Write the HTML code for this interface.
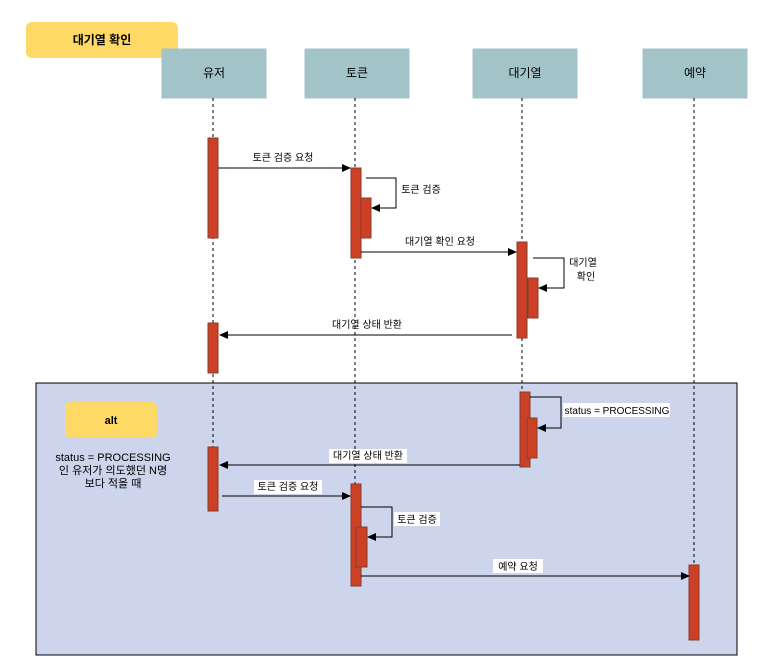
<!DOCTYPE html>
<html><head><meta charset="utf-8"><style>
body{margin:0;background:#fff;}
svg text{font-family:"Liberation Sans","Noto Sans CJK KR",sans-serif;}
</style></head><body>
<svg width="774" height="667" xmlns="http://www.w3.org/2000/svg">
<defs><marker id="a" markerWidth="10" markerHeight="10" refX="8" refY="5" orient="auto" markerUnits="userSpaceOnUse"><path d="M0,1 L9,5 L0,9 Z" fill="#000"/></marker></defs>
<rect x="0" y="0" width="774" height="667" fill="#fff"/>
<rect x="26" y="22" width="152" height="36" rx="6" fill="#ffd966"/>
<text x="102" y="44" font-size="12" font-weight="bold" text-anchor="middle">대기열 확인</text>
<rect x="36" y="383" width="701" height="272" fill="#ccd5eb" stroke="#000" stroke-width="1"/>
<g fill="#a2c4c9" stroke="#a2c4c9">
<rect x="162" y="49" width="104" height="49"/><rect x="305" y="49" width="104" height="49"/><rect x="473" y="49" width="104" height="49"/><rect x="643" y="49" width="104" height="49"/></g>
<g font-size="12" text-anchor="middle"><text x="214" y="77">유저</text><text x="357" y="77">토큰</text><text x="525" y="77">대기열</text><text x="695" y="77">예약</text></g>
<g stroke="#000" stroke-dasharray="3,3" stroke-width="1"><line x1="213" y1="98" x2="213" y2="512"/><line x1="355" y1="98" x2="355" y2="586"/><line x1="522" y1="98" x2="522" y2="467"/><line x1="694" y1="98" x2="694" y2="565"/></g>
<g fill="#cc4125" stroke="#8a3a2a" stroke-width="1">
<rect x="208" y="138" width="10" height="100"/><rect x="208" y="323" width="10" height="50"/>
<rect x="351" y="168" width="10" height="90"/><rect x="361" y="198" width="10" height="40"/>
<rect x="517" y="242" width="10" height="96"/><rect x="528" y="278" width="10" height="40"/>
<rect x="520" y="392" width="10" height="75"/><rect x="527" y="418" width="10" height="40"/>
<rect x="208" y="447" width="10" height="64"/>
<rect x="351" y="484" width="10" height="102"/><rect x="356" y="527" width="11" height="40"/>
<rect x="689" y="565" width="10" height="75"/></g>
<g stroke="#000" stroke-width="1" fill="none" marker-end="url(#a)">
<line x1="218" y1="168" x2="350" y2="168"/>
<polyline points="366,178 396,178 396,208 372,208"/>
<line x1="361" y1="252" x2="516" y2="252"/>
<polyline points="533,258 564,258 564,288 539,288"/>
<line x1="512" y1="335" x2="220" y2="335"/>
<polyline points="530,397 561,397 561,428 538,428"/>
<line x1="520" y1="465" x2="220" y2="465"/>
<line x1="222" y1="496" x2="350" y2="496"/>
<polyline points="361,507 392,507 392,537 368,537"/>
<line x1="361" y1="576" x2="689" y2="576"/>
</g>
<g fill="#fff"><rect x="563" y="403" width="107" height="14"/><rect x="329" y="449" width="78" height="14"/><rect x="254" y="480" width="68" height="14"/><rect x="394" y="512" width="46" height="14"/><rect x="493" y="559" width="50" height="14"/></g>
<g font-size="10" text-anchor="middle">
<text x="283" y="161">토큰 검증 요청</text>
<text x="421" y="193">토큰 검증</text>
<text x="440" y="245">대기열 확인 요청</text>
<text x="583" y="266">대기열</text><text x="586" y="280">확인</text>
<text x="367" y="328">대기열 상태 반환</text>
<text x="617" y="414">status = PROCESSING</text>
<text x="368" y="459">대기열 상태 반환</text>
<text x="288" y="490">토큰 검증 요청</text>
<text x="417" y="523">토큰 검증</text>
<text x="518" y="570">예약 요청</text>
</g>
<rect x="65" y="402" width="92" height="36" rx="6" fill="#ffd966"/>
<text x="111" y="424" font-size="11" font-weight="bold" text-anchor="middle">alt</text>
<g font-size="11" text-anchor="middle"><text x="113" y="461">status = PROCESSING</text><text x="113" y="474">인 유저가 의도했던 N명</text><text x="113" y="487">보다 적을 때</text></g>
</svg>
</body></html>
